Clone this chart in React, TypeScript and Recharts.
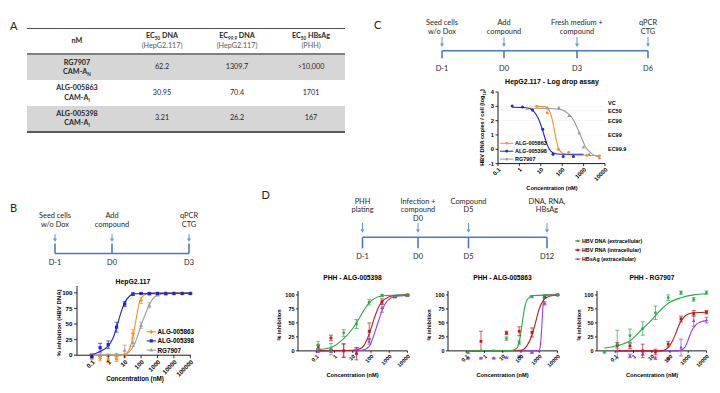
import React from "react";
import { ComposedChart, Line, Scatter, XAxis, YAxis, ReferenceLine, ErrorBar } from "recharts";

const ARIAL = "'Liberation Sans', Arial, Helvetica, sans-serif";
const CALIBRI = "Lato, 'Open Sans', sans-serif";

const ORANGE = "#f7931e";
const BLUE = "#1f22d9";
const GRAY = "#9b9b9b";
const GREEN = "#2ba84a";
const RED = "#b71c1c";
const PURPLE = "#9c3fd6";
const TL_LINE = "#4a78c8";
const TL_ARROW = "#5b9bd5";

// ---- A: potency table
const headSub = ["50", "99.9", "50"];
const headTail = [" DNA", " DNA", " HBsAg"];
const headCell = ["(HepG2.117)", "(HepG2.117)", "(PHH)"];
const compounds = ["RG7907", "ALG-005863", "ALG-005398"];
const camSub = ["N", "I", "I"];
const ec50Dna = ["62.2", "30.95", "3.21"];
const ec999Dna = ["1309.7", "70.4", "26.2"];
const ec50HBsAg = [">10,000", "1701", "167"];

// ---- B: HepG2.117 % inhibition
const bTicks = [0.1, 1, 10, 100, 1000, 10000, 100000];
const bConc = [0.1, 0.32, 1, 3.2, 10, 32, 100, 320, 1000, 3200, 10000, 32000, 100000];
const b5398 = [-2, 12, 17, 45, 82, 98, 99, 99, 99, 99, 99, 99, 99];
const b5398Err = [4, 7, 6, 8, 4, 2, 1, 1, 1, 1, 1, 1, 1];
const b5863 = [-3, -5, -8, -6, -1, 35, 88, 98, 99, 99, 99, 99, 99];
const b5863Err = [3, 4, 3, 4, 3, 6, 5, 2, 1, 1, 1, 1, 1];
const b7907 = [0, 0, 0, 0, 8, 20, 48, 80, 97, 98, 99, 99, 99];
const b7907Err = [2, 2, 2, 3, 8, 6, 5, 4, 2, 1, 1, 1, 1];
const bFit5398X = [0.07, 0.32, 1, 2, 3.2, 5, 10, 20, 40, 100000];
const bFit5398Y = [0, 6, 15, 28, 44, 62, 84, 95, 98.5, 99.5];
const bFit5863X = [0.1, 6.5, 15, 25, 32, 50, 76, 100, 200, 400, 100000];
const bFit5863Y = [0, 0, 5, 18, 30, 58, 83, 91, 98, 100, 100];
const bFit7907X = [0.1, 10, 20, 40, 70, 100, 160, 250, 400, 700, 1500, 4000, 100000];
const bFit7907Y = [0, 0.5, 6, 18, 35, 48, 62, 75, 86, 94, 98, 99, 99.5];
const bLegend = ["ALG-005863", "ALG-005398", "RG7907"];

// ---- C: log drop assay
const cTicks = [0.1, 1, 10, 100, 1000, 10000];
const cConc5398 = [0.46, 1.4, 4.1, 12.3, 37, 111, 333];
const c5398 = [3.02, 2.95, 2.75, 1.4, -0.35, -0.5, -0.5];
const cConc5863 = [6.6, 20, 66, 200, 1400, 5500];
const c5863 = [3.0, 2.55, 0.0, -0.2, -0.42, -0.45];
const cConc7907 = [2.3, 21, 70, 210, 620, 1000, 1800, 5500];
const c7907 = [2.85, 2.88, 2.9, 2.35, 1.15, 0.15, -0.35, -0.6];
const cFit5398X = [0.46, 1.4, 3, 5, 8, 12, 18, 25, 37, 60, 150, 1000];
const cFit5398Y = [2.93, 2.92, 2.85, 2.6, 2.1, 1.35, 0.5, 0.0, -0.25, -0.33, -0.35, -0.35];
const cFit5863X = [5, 15, 25, 35, 45, 55, 70, 100, 200, 1000, 5500];
const cFit5863Y = [3.0, 2.98, 2.7, 2.0, 1.2, 0.5, 0.0, -0.25, -0.38, -0.42, -0.45];
const cFit7907X = [2.3, 30, 100, 200, 350, 500, 800, 1200, 2000, 3500, 5500];
const cFit7907Y = [2.87, 2.85, 2.75, 2.45, 2.0, 1.5, 0.8, 0.2, -0.2, -0.45, -0.55];
const cRefY = [3, 2.7, 2, 1, 0];
const cRefLabel = ["VC", "EC50", "EC90", "EC99", "EC99.9"];

// ---- D: PHH
const dTicks = [0.1, 1, 10, 100, 1000, 10000];
const dConc = [0.128, 0.64, 3.2, 16, 80, 400, 2000, 10000];
const d5398Dna = [10, 3, 32, 48, 87, 99, 97, 99];
const d5398DnaErr = [7, 10, 6, 8, 5, 2, 2, 2];
const d5398Rna = [8, 23, 0, -5, 35, 88, 97, 100];
const d5398RnaErr = [4, 5, 12, 11, 15, 5, 2, 1];
const d5398Ag = [0, 0, 1, 2, 17, 77, 97, 99];
const d5398AgErr = [3, 3, 12, 3, 5, 8, 2, 1];
const d5863Dna = [-3, 0, 0, 22, 15, 97, 99, 100];
const d5863DnaErr = [2, 1, 1, 3, 3, 2, 1, 1];
const d5863Rna = [null, 17, null, 32, 35, 33, 97, 100];
const d5863RnaErr = [0, 18, 0, 3, 8, 8, 2, 1];
const d5863Ag = [-13, -13, -13, -12, -10, -3, 85, 100];
const d5863AgErr = [1, 1, 1, 1, 1, 1, 3, 1];
const dRgConc = [0.0256, 0.128, 0.64, 3.2, 16, 80, 400, 2000, 10000];
const dRgDna = [-2, 12, 27, 40, 68, 95, 104, 92, 104];
const dRgDnaErr = [2, 25, 12, 12, 12, 5, 3, 3, 3];
const dRgRna = [null, 10, 9, 0, -2, 12, 57, 67, 69];
const dRgRnaErr = [0, 5, 5, 12, 5, 5, 5, 5, 3];
const dRgAg = [null, 0, -9, -5, -13, -15, 6, 54, 55];
const dRgAgErr = [0, 0, 3, 3, 2, 1, 15, 10, 5];
const d1GreenFitX = [0.128, 0.64, 3.2, 10, 16, 40, 80, 400, 2000, 10000];
const d1GreenFitY = [2, 6, 22, 40, 50, 72, 86, 98, 99.5, 100];
const d1RedFitX = [0.128, 10, 30, 60, 100, 150, 300, 600, 2000, 10000];
const d1RedFitY = [0, 1, 5, 20, 40, 58, 82, 93, 99, 100];
const d1PurpleFitX = [0.128, 30, 80, 150, 250, 400, 800, 2000, 10000];
const d1PurpleFitY = [0, 1, 8, 30, 52, 72, 90, 97, 99];
const d2GreenFitX = [0.128, 30, 60, 90, 117, 160, 250, 500, 10000];
const d2GreenFitY = [0, 0.5, 5, 25, 50, 78, 94, 99, 100];
const d2RedFitX = [0.128, 100, 200, 400, 620, 1000, 2000, 4000, 10000];
const d2RedFitY = [0, 1, 8, 28, 50, 75, 93, 98, 100];
const d2PurpleFitX = [0.128, 900, 1100, 1300, 1450, 1600, 1900, 2500, 10000];
const d2PurpleFitY = [0, 0, 5, 30, 55, 80, 97, 100, 100];
const d3GreenFitX = [0.0256, 0.128, 0.64, 3.2, 7, 16, 80, 400, 2000, 10000];
const d3GreenFitY = [5, 9, 18, 40, 50, 63, 85, 95, 100, 102];
const d3RedFitX = [0.128, 30, 60, 100, 200, 300, 500, 1000, 2000, 10000];
const d3RedFitY = [0, 0, 3, 10, 30, 45, 58, 66, 68, 69];
const d3PurpleFitX = [0.128, 250, 500, 800, 1000, 1500, 2500, 5000, 10000];
const d3PurpleFitY = [0, 0, 3, 12, 20, 35, 46, 52, 54];
const dLegend = ["HBV DNA (extracellular)", "HBV RNA (intracellular)", "HBsAg (extracellular)"];

const pts = (xs: number[], ys: (number | null)[], es?: number[]) =>
  xs
    .map((x, i) => ({ x, y: ys[i], e: es ? es[i] : 0 }))
    .filter((p) => p.y !== null);
const fit = (xs: number[], ys: number[]) => xs.map((x, i) => ({ x, y: ys[i] }));

function marker(kind: string, cx: number, cy: number, color: string, s = 3.2) {
  if (kind === "square")
    return <rect x={cx - s / 2} y={cy - s / 2} width={s} height={s} fill={color} />;
  if (kind === "triangle")
    return (
      <polygon
        points={`${cx},${cy - s * 0.65} ${cx - s * 0.6},${cy + s * 0.45} ${cx + s * 0.6},${cy + s * 0.45}`}
        fill={color}
      />
    );
  if (kind === "diamond")
    return (
      <polygon
        points={`${cx},${cy - s * 0.7} ${cx + s * 0.6},${cy} ${cx},${cy + s * 0.7} ${cx - s * 0.6},${cy}`}
        fill={color}
      />
    );
  return <circle cx={cx} cy={cy} r={s / 2} fill={color} />;
}
const shapeOf = (kind: string, color: string, s = 3.2) => (p: any) => marker(kind, p.cx, p.cy, color, s);

const xTick = (fs: number, shift: number, len: number) => (props: any) => {
  const { x, y, payload } = props;
  const y0 = y - shift;
  const tx = x + 1.5;
  const ty = y0 + len + 2.5;
  return (
    <g>
      <line x1={x} x2={x} y1={y0} y2={y0 + len} stroke="#000" strokeWidth={0.8} />
      <text
        x={tx}
        y={ty}
        textAnchor="end"
        dominantBaseline="central"
        transform={`rotate(-45 ${tx} ${ty})`}
        fontSize={fs}
        fontWeight={700}
        fontFamily={ARIAL}
        fill="#000"
      >
        {String(payload.value)}
      </text>
    </g>
  );
};

type PlotProps = {
  left: number;
  right: number;
  top: number;
  bottom: number;
  xDomain: [number, number];
  xTicks: number[];
  yDomain: [number, number];
  yTicks: number[];
  fs: number;
  padR?: number;
  floating?: boolean;
  tickLen?: number;
  children?: React.ReactNode;
};

function Plot({ left, right, top, bottom, xDomain, xTicks, yDomain, yTicks, fs, padR = 10, floating = true, tickLen = 2.5, children }: PlotProps) {
  const YW = 36;
  const PAD = 6;
  const XH = 34;
  const plotH = bottom - top;
  const shift = floating ? (plotH * (0 - yDomain[0])) / (yDomain[1] - yDomain[0]) : 0;
  const axis = { stroke: "#000", strokeWidth: 0.9 };
  return (
    <div style={{ position: "absolute", left: left - YW, top: top - PAD }}>
      <ComposedChart width={right - left + YW + padR} height={plotH + PAD + XH} margin={{ top: PAD, right: padR, bottom: 0, left: 0 }}>
        <XAxis
          type="number"
          dataKey="x"
          scale="log"
          domain={xDomain}
          ticks={xTicks}
          interval={0}
          height={XH}
          tickSize={0}
          tickMargin={0}
          tickLine={false}
          axisLine={floating ? false : axis}
          tick={xTick(fs, shift, tickLen)}
        />
        <YAxis
          type="number"
          dataKey="y"
          domain={yDomain}
          ticks={yTicks}
          interval={0}
          width={YW}
          tickSize={tickLen}
          tickMargin={1.5}
          tickLine={{ stroke: "#000", strokeWidth: 0.8 }}
          axisLine={floating ? false : axis}
          tick={{ fontSize: fs, fontWeight: 700, fill: "#000", fontFamily: ARIAL }}
        />
        {floating && <ReferenceLine y={0} stroke="#000" strokeWidth={0.9} />}
        {floating && (
          <ReferenceLine
            segment={[
              { x: xDomain[0], y: 0 },
              { x: xDomain[0], y: yDomain[1] },
            ]}
            stroke="#000"
            strokeWidth={0.9}
          />
        )}
        {children}
      </ComposedChart>
    </div>
  );
}

function curve(data: any[], color: string, w = 1.1) {
  return <Line data={data} dataKey="y" type="monotone" stroke={color} strokeWidth={w} dot={false} isAnimationActive={false} />;
}
function points(data: any[], color: string, kind: string, s = 3.2, err = true) {
  return (
    <Scatter data={data} dataKey="y" shape={shapeOf(kind, color, s)} isAnimationActive={false}>
      {err && <ErrorBar dataKey="e" direction="y" width={2} stroke={color} strokeWidth={0.7} />}
    </Scatter>
  );
}

function TableA() {
  const cell: React.CSSProperties = { padding: 0, textAlign: "center", verticalAlign: "middle", lineHeight: "9.5px" };
  const sub: React.CSSProperties = { fontSize: 4.6, verticalAlign: "-1.5px", lineHeight: 0 };
  const values = [ec50Dna, ec999Dna, ec50HBsAg];
  return (
    <table
      style={{
        position: "absolute",
        left: 27,
        top: 28,
        width: 318,
        borderCollapse: "collapse",
        tableLayout: "fixed",
        fontFamily: CALIBRI,
        fontSize: 7.2,
        color: "#262626",
      }}
    >
      <colgroup>
        <col style={{ width: 100 }} />
        <col style={{ width: 70 }} />
        <col style={{ width: 80 }} />
        <col style={{ width: 68 }} />
      </colgroup>
      <thead>
        <tr style={{ height: 25, borderTop: "1.5px solid #4d4d4d", borderBottom: "2px solid #7f7f7f" }}>
          <th style={{ ...cell, fontWeight: 700 }}>nM</th>
          {headSub.map((s, i) => (
            <th key={i} style={cell}>
              <div style={{ fontWeight: 700 }}>
                EC<span style={sub}>{s}</span>
                {headTail[i]}
              </div>
              <div style={{ fontWeight: 400, color: "#595959" }}>{headCell[i]}</div>
            </th>
          ))}
        </tr>
      </thead>
      <tbody>
        {compounds.map((c, r) => (
          <tr
            key={c}
            style={{
              height: 26,
              background: r % 2 === 0 ? "#d6d6d6" : "#fff",
              borderBottom: r === compounds.length - 1 ? "2px solid #595959" : "none",
            }}
          >
            <td style={{ ...cell, fontWeight: 700 }}>
              <div>{c}</div>
              <div>
                CAM-A<span style={sub}>{camSub[r]}</span>
              </div>
            </td>
            {values.map((v, k) => (
              <td key={k} style={cell}>
                {v[r]}
              </td>
            ))}
          </tr>
        ))}
      </tbody>
    </table>
  );
}

function T({ x, y, s, w = 400, f = CALIBRI, c = "#262626", a = "middle", r, children }: any) {
  return (
    <text
      x={x}
      y={y}
      fontSize={s}
      fontWeight={w}
      fontFamily={f}
      fill={c}
      textAnchor={a}
      dominantBaseline={r ? "central" : undefined}
      transform={r ? `rotate(${r} ${x} ${y})` : undefined}
    >
      {children}
    </text>
  );
}

function Arrow({ x, y1, y2 }: { x: number; y1: number; y2: number }) {
  return (
    <g>
      <line x1={x} x2={x} y1={y1} y2={y2 - 3} stroke={TL_ARROW} strokeWidth={1} />
      <polygon points={`${x - 2},${y2 - 3.5} ${x + 2},${y2 - 3.5} ${x},${y2}`} fill={TL_ARROW} />
    </g>
  );
}

type Step = { x: number; day: string; top: string[] };
function Timeline({ steps, y, tick, arrow, topY, dayY }: { steps: Step[]; y: number; tick: number; arrow: [number, number]; topY: number[]; dayY: number }) {
  return (
    <g>
      <line x1={steps[0].x} x2={steps[steps.length - 1].x} y1={y} y2={y} stroke={TL_LINE} strokeWidth={1.6} />
      {steps.map((s) => (
        <g key={s.day}>
          <line x1={s.x} x2={s.x} y1={y} y2={y + tick} stroke={TL_LINE} strokeWidth={1.6} />
          <Arrow x={s.x} y1={arrow[0]} y2={arrow[1]} />
          {s.top.map((t, i) => (
            <T key={i} x={s.x} y={topY[i]} s={7.4}>
              {t}
            </T>
          ))}
          <T x={s.x} y={dayY} s={7.4}>
            {s.day}
          </T>
        </g>
      ))}
    </g>
  );
}

const bSteps: Step[] = [
  { x: 55, day: "D-1", top: ["Seed cells", "w/o Dox"] },
  { x: 112, day: "D0", top: ["Add", "compound"] },
  { x: 189, day: "D3", top: ["qPCR", "CTG"] },
];
const cSteps: Step[] = [
  { x: 442, day: "D-1", top: ["Seed cells", "w/o Dox"] },
  { x: 504, day: "D0", top: ["Add", "compound"] },
  { x: 577, day: "D3", top: ["Fresh medium +", "compound"] },
  { x: 648, day: "D6", top: ["qPCR", "CTG"] },
];
const dSteps: Step[] = [
  { x: 362.5, day: "D-1", top: ["PHH", "plating"] },
  { x: 418, day: "D0", top: ["Infection +", "compound", "D0"] },
  { x: 468.5, day: "D5", top: ["Compound", "D5"] },
  { x: 547, day: "D12", top: ["DNA, RNA,", "HBsAg"] },
];

function Overlay() {
  const bColors = [ORANGE, BLUE, GRAY];
  const bKinds = ["diamond", "square", "triangle"];
  const dColors = [GREEN, RED, PURPLE];
  return (
    <svg width={720} height={393} style={{ position: "absolute", left: 0, top: 0, pointerEvents: "none" }}>
      <T x={10} y={29.5} s={11} a="start" c="#222">A</T>
      <T x={10} y={211.5} s={11} a="start" c="#222">B</T>
      <T x={374} y={29.3} s={11} a="start" c="#222">C</T>
      <T x={261.5} y={199.3} s={11} a="start" c="#222">D</T>

      <Timeline steps={bSteps} y={253.5} tick={-10} arrow={[234, 242]} topY={[218, 226.7]} dayY={265} />
      <Timeline steps={cSteps} y={50.7} tick={7.5} arrow={[37, 47]} topY={[25, 33.7]} dayY={71} />
      <Timeline steps={dSteps} y={237.3} tick={11} arrow={[223, 232.7]} topY={[203.5, 212.3, 221]} dayY={258.5} />

      {/* B labels */}
      <T x={133} y={283.5} s={6.8} w={700} f={ARIAL} c="#000">HepG2.117</T>
      <T x={58.5} y={323} s={6} w={700} f={ARIAL} c="#000" r={-90}>% inhibition (HBV DNA)</T>
      <T x={135} y={381} s={6.3} w={700} f={ARIAL} c="#000">Concentration (nM)</T>
      {bLegend.map((n, i) => (
        <g key={n}>
          <line x1={146.7} x2={156} y1={331.7 + i * 9.2} y2={331.7 + i * 9.2} stroke={bColors[i]} strokeWidth={1.1} />
          {marker(bKinds[i], 151.3, 331.7 + i * 9.2, bColors[i], 3.2)}
          <text x={157.5} y={331.7 + i * 9.2} dominantBaseline="central" fontSize={6.3} fontWeight={700} fontFamily={ARIAL} fill="#000">
            {n}
          </text>
        </g>
      ))}

      {/* C labels */}
      <T x={552} y={83.5} s={7} w={700} f={ARIAL} c="#000">HepG2.117 - Log drop assay</T>
      <text x={482} y={127.5} fontSize={5.6} fontWeight={700} fontFamily={ARIAL} fill="#000" textAnchor="middle" dominantBaseline="central" transform="rotate(-90 482 127.5)">
        HBV DNA copies / cell (log<tspan fontSize={4} dy={1.5}>10</tspan>
        <tspan dy={-1.5}>)</tspan>
      </text>
      <T x={552} y={189.5} s={5.6} w={700} f={ARIAL} c="#000">Concentration (nM)</T>
      {bLegend.map((n, i) => (
        <g key={n}>
          <line x1={500} x2={513.3} y1={143.3 + i * 7.9} y2={143.3 + i * 7.9} stroke={bColors[i]} strokeWidth={1} />
          {marker(i === 2 ? "triangle" : "circle", 506.7, 143.3 + i * 7.9, bColors[i], 2.8)}
          <text x={515} y={143.3 + i * 7.9} dominantBaseline="central" fontSize={5.5} fontWeight={700} fontFamily={ARIAL} fill="#000">
            {n}
          </text>
        </g>
      ))}

      {/* D labels */}
      {dLegend.map((n, i) => (
        <g key={n}>
          <line x1={575} x2={580.5} y1={241 + i * 9} y2={241 + i * 9} stroke={dColors[i]} strokeWidth={0.9} />
          {marker(["circle", "square", "triangle"][i], 577.7, 241 + i * 9, dColors[i], 2.4)}
          <text x={582} y={241 + i * 9} dominantBaseline="central" fontSize={5.3} fontWeight={700} fontFamily={ARIAL} fill="#000">
            {n}
          </text>
        </g>
      ))}
      {[
        ["PHH - ALG-005398", 352.5, 279.3],
        ["PHH - ALG-005863", 502.5, 429.3],
        ["PHH - RG7907", 652, 579.3],
      ].map(([t, cx, lx]) => (
        <g key={t as string}>
          <T x={cx} y={280} s={6.7} w={700} f={ARIAL} c="#000">{t}</T>
          <T x={lx} y={325} s={5.5} w={700} f={ARIAL} c="#000" r={-90}>% inhibition</T>
          <T x={cx} y={377} s={5.7} w={700} f={ARIAL} c="#000">Concentration (nM)</T>
        </g>
      ))}
    </svg>
  );
}

const refLabel = (text: string, dy: number) => (p: any) => {
  const vb = p.viewBox;
  return (
    <text x={vb.x + vb.width + 3} y={vb.y + dy} dominantBaseline="central" fontSize={5.5} fontWeight={700} fontFamily={ARIAL} fill="#000">
      {text}
    </text>
  );
};

function DPlot({ left, children }: { left: number; children: React.ReactNode }) {
  return (
    <Plot left={left} right={left + 109.5} top={291.1} bottom={360.5} xDomain={[0.01, 10000]} xTicks={dTicks} yDomain={[-17, 107]} yTicks={[0, 25, 50, 75, 100]} fs={5.5} tickLen={2}>
      {children}
    </Plot>
  );
}

export default function App() {
  return (
    <div style={{ position: "fixed", left: 0, top: 0, width: 720, height: 393, background: "#fff", overflow: "hidden" }}>
      <TableA />

      <Plot left={77} right={191} top={285.8} bottom={362.5} xDomain={[0.0125, 110000]} xTicks={bTicks} yDomain={[-12, 111]} yTicks={[0, 25, 50, 75, 100]} fs={6.2} tickLen={3}>
        {curve(fit(bFit7907X, bFit7907Y), GRAY)}
        {curve(fit(bFit5863X, bFit5863Y), ORANGE)}
        {curve(fit(bFit5398X, bFit5398Y), BLUE)}
        {points(pts(bConc, b7907, b7907Err), GRAY, "triangle")}
        {points(pts(bConc, b5863, b5863Err), ORANGE, "diamond")}
        {points(pts(bConc, b5398, b5398Err), BLUE, "square")}
      </Plot>

      <Plot left={498} right={605} top={91.7} bottom={163.3} xDomain={[0.1, 10000]} xTicks={cTicks} yDomain={[-1, 4]} yTicks={[-1, 0, 1, 2, 3, 4]} fs={5.8} padR={34} floating={false}>
        {cRefY.map((v, i) => (
          <ReferenceLine key={i} y={v} stroke="#ededed" strokeWidth={0.6} label={refLabel(cRefLabel[i], i === 0 ? -3.5 : 0)} />
        ))}
        {curve(fit(cFit7907X, cFit7907Y), GRAY)}
        {curve(fit(cFit5863X, cFit5863Y), ORANGE)}
        {curve(fit(cFit5398X, cFit5398Y), BLUE)}
        {points(pts(cConc7907, c7907), GRAY, "triangle", 3, false)}
        {points(pts(cConc5863, c5863), ORANGE, "circle", 3, false)}
        {points(pts(cConc5398, c5398), BLUE, "circle", 3, false)}
      </Plot>

      <DPlot left={298}>
        {curve(fit(d1PurpleFitX, d1PurpleFitY), PURPLE)}
        {curve(fit(d1RedFitX, d1RedFitY), RED)}
        {curve(fit(d1GreenFitX, d1GreenFitY), GREEN)}
        {points(pts(dConc, d5398Ag, d5398AgErr), PURPLE, "triangle", 2.8)}
        {points(pts(dConc, d5398Rna, d5398RnaErr), RED, "square", 2.8)}
        {points(pts(dConc, d5398Dna, d5398DnaErr), GREEN, "circle", 2.8)}
      </DPlot>

      <DPlot left={448}>
        {curve(fit(d2PurpleFitX, d2PurpleFitY), PURPLE)}
        {curve(fit(d2RedFitX, d2RedFitY), RED)}
        {curve(fit(d2GreenFitX, d2GreenFitY), GREEN)}
        {points(pts(dConc, d5863Ag, d5863AgErr), PURPLE, "triangle", 2.8)}
        {points(pts(dConc, d5863Rna, d5863RnaErr), RED, "square", 2.8)}
        {points(pts(dConc, d5863Dna, d5863DnaErr), GREEN, "circle", 2.8)}
      </DPlot>

      <DPlot left={597}>
        {curve(fit(d3PurpleFitX, d3PurpleFitY), PURPLE)}
        {curve(fit(d3RedFitX, d3RedFitY), RED)}
        {curve(fit(d3GreenFitX, d3GreenFitY), GREEN)}
        {points(pts(dRgConc, dRgAg, dRgAgErr), PURPLE, "triangle", 2.8)}
        {points(pts(dRgConc, dRgRna, dRgRnaErr), RED, "square", 2.8)}
        {points(pts(dRgConc, dRgDna, dRgDnaErr), GREEN, "circle", 2.8)}
      </DPlot>

      <Overlay />
    </div>
  );
}
